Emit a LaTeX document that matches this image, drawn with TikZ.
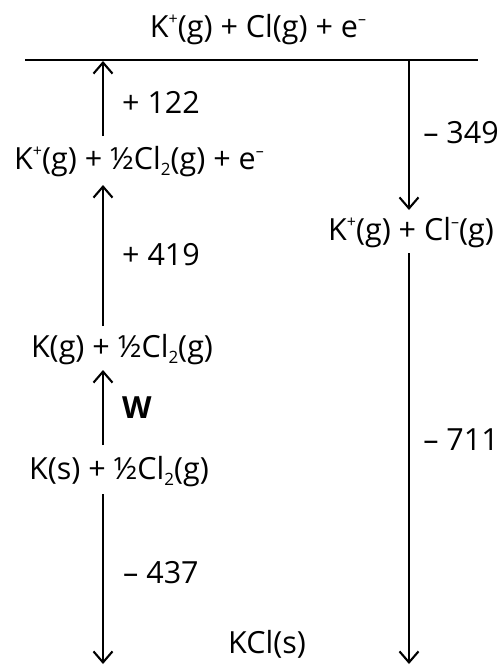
\documentclass[tikz,border=0pt]{standalone}
\usepackage{fontspec}
\setmainfont{Open Sans}
\usetikzlibrary{arrows.meta}
\newcommand{\sups}[1]{\raisebox{0.8ex}{\fontsize{16}{16}\selectfont #1}}
\newcommand{\subs}[1]{\raisebox{-0.35ex}{\fontsize{17}{17}\selectfont #1}}
\tikzset{
  lbl/.style={inner sep=0pt, font=\fontsize{30.5}{36}\selectfont},
  arr/.style={line width=2.1pt, -{Straight Barb[length=11pt,width=19pt,line width=2.1pt]}},
  lvl/.style={line width=2.6pt}
}
\begin{document}
\begin{tikzpicture}[x=1pt,y=-1pt]
\useasboundingbox (0,0) rectangle (503,666);
% labels
\node[lbl] (top) at (258,30) {K\sups{+}(g) + Cl(g) + e\sups{–}};
\node[lbl] (s2) at (139,162) {K\sups{+}(g) + ½Cl\subs{2}(g) + e\sups{–}};
\node[lbl] (s3) at (122,350) {K(g) + ½Cl\subs{2}(g)};
\node[lbl] (s4) at (119,472) {K(s) + ½Cl\subs{2}(g)};
\node[lbl] (s5) at (411,233) {K\sups{+}(g) + Cl\sups{–}(g)};
\node[lbl] (s6) at (267,644) {KCl(s)};
\node[lbl, anchor=west] (v1) at (122,102) {+ 122};
\node[lbl, anchor=west] (v2) at (122,255) {+ 419};
\node[lbl, anchor=west, font=\fontsize{30.5}{36}\selectfont\bfseries] (v3) at (122,408) {W};
\node[lbl, anchor=west] (v4) at (123,573) {– 437};
\node[lbl, anchor=east] (v5) at (499,133) {– 349};
\node[lbl, anchor=east] (v6) at (499,440) {– 711};
% level line
\coordinate (lineL) at (25,60);
\coordinate (lineR) at (478,60);
\draw[lvl] (lineL) -- (lineR);
% arrow end points
\coordinate (a1s) at (103,136); \coordinate (a1e) at (103,61);
\coordinate (a2s) at (103,326); \coordinate (a2e) at (103,185);
\coordinate (a3s) at (103,445); \coordinate (a3e) at (103,370);
\coordinate (a4s) at (103,494); \coordinate (a4e) at (103,664);
\coordinate (b1s) at (409,60);  \coordinate (b1e) at (409,210);
\coordinate (b2s) at (409,253); \coordinate (b2e) at (409,664);
\draw[arr] (a1s) -- (a1e);
\draw[arr] (a2s) -- (a2e);
\draw[arr] (a3s) -- (a3e);
\draw[arr] (a4s) -- (a4e);
\draw[arr] (b1s) -- (b1e);
\draw[arr] (b2s) -- (b2e);
\end{tikzpicture}
\end{document}
